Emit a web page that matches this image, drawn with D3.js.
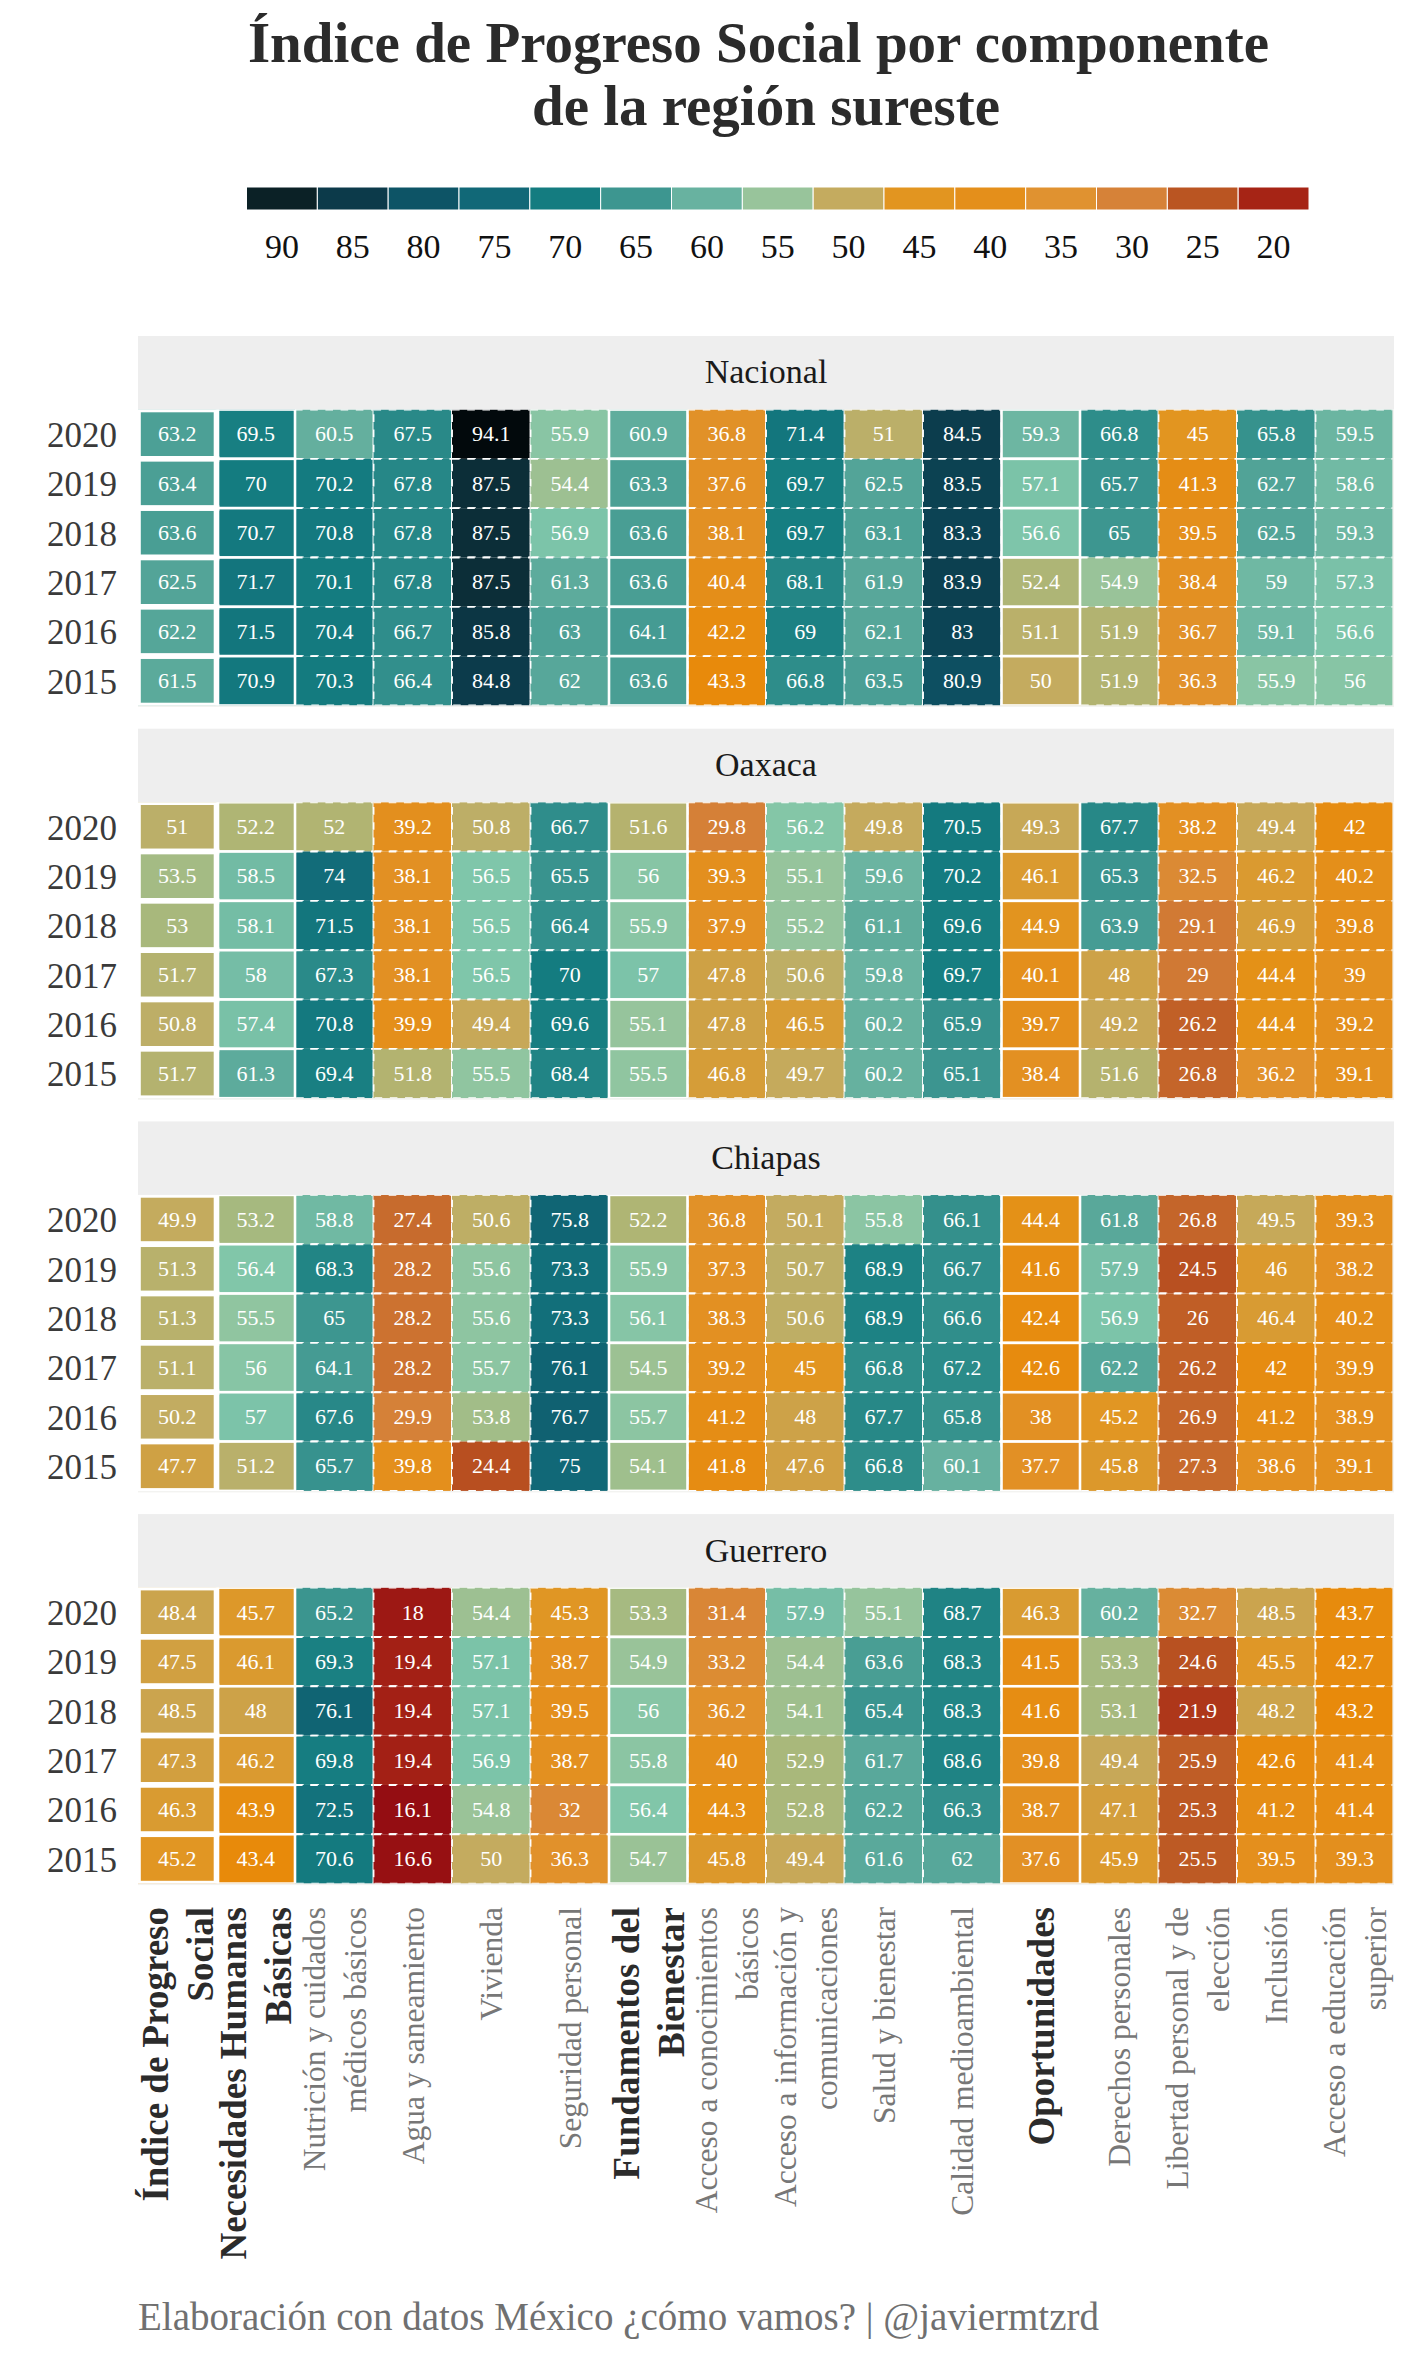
<!DOCTYPE html>
<html>
<head>
<meta charset="utf-8">
<script src="https://cdn.jsdelivr.net/npm/d3@7"></script>
<style>
  body { margin: 0; background: #fff; }
  svg { display: block; }
  text { font-family: "Liberation Serif", serif; }
</style>
</head>
<body>
<div id="chart"></div>
<script>
// data
var years = [2020, 2019, 2018, 2017, 2016, 2015];
var components = [
  "Índice de Progreso\nSocial", "Necesidades Humanas\nBásicas", "Nutrición y cuidados\nmédicos básicos",
  "Agua y saneamiento", "Vivienda", "Seguridad personal", "Fundamentos del\nBienestar",
  "Acceso a conocimientos\nbásicos", "Acceso a información y\ncomunicaciones", "Salud y bienestar",
  "Calidad medioambiental", "Oportunidades", "Derechos personales",
  "Libertad personal y de\nelección", "Inclusión", "Acceso a educación\nsuperior"
];
// columns with a bold label (dimensions, not components)
var boldColumns = [0, 1, 6, 11];
var regions = ["Nacional", "Oaxaca", "Chiapas", "Guerrero"];
var legendBreaks = [90, 85, 80, 75, 70, 65, 60, 55, 50, 45, 40, 35, 30, 25, 20];

var nacional = [
  [63.2, 69.5, 60.5, 67.5, 94.1, 55.9, 60.9, 36.8, 71.4, 51, 84.5, 59.3, 66.8, 45, 65.8, 59.5],
  [63.4, 70, 70.2, 67.8, 87.5, 54.4, 63.3, 37.6, 69.7, 62.5, 83.5, 57.1, 65.7, 41.3, 62.7, 58.6],
  [63.6, 70.7, 70.8, 67.8, 87.5, 56.9, 63.6, 38.1, 69.7, 63.1, 83.3, 56.6, 65, 39.5, 62.5, 59.3],
  [62.5, 71.7, 70.1, 67.8, 87.5, 61.3, 63.6, 40.4, 68.1, 61.9, 83.9, 52.4, 54.9, 38.4, 59, 57.3],
  [62.2, 71.5, 70.4, 66.7, 85.8, 63, 64.1, 42.2, 69, 62.1, 83, 51.1, 51.9, 36.7, 59.1, 56.6],
  [61.5, 70.9, 70.3, 66.4, 84.8, 62, 63.6, 43.3, 66.8, 63.5, 80.9, 50, 51.9, 36.3, 55.9, 56]
];
var oaxaca = [
  [51, 52.2, 52, 39.2, 50.8, 66.7, 51.6, 29.8, 56.2, 49.8, 70.5, 49.3, 67.7, 38.2, 49.4, 42],
  [53.5, 58.5, 74, 38.1, 56.5, 65.5, 56, 39.3, 55.1, 59.6, 70.2, 46.1, 65.3, 32.5, 46.2, 40.2],
  [53, 58.1, 71.5, 38.1, 56.5, 66.4, 55.9, 37.9, 55.2, 61.1, 69.6, 44.9, 63.9, 29.1, 46.9, 39.8],
  [51.7, 58, 67.3, 38.1, 56.5, 70, 57, 47.8, 50.6, 59.8, 69.7, 40.1, 48, 29, 44.4, 39],
  [50.8, 57.4, 70.8, 39.9, 49.4, 69.6, 55.1, 47.8, 46.5, 60.2, 65.9, 39.7, 49.2, 26.2, 44.4, 39.2],
  [51.7, 61.3, 69.4, 51.8, 55.5, 68.4, 55.5, 46.8, 49.7, 60.2, 65.1, 38.4, 51.6, 26.8, 36.2, 39.1]
];
var chiapas = [
  [49.9, 53.2, 58.8, 27.4, 50.6, 75.8, 52.2, 36.8, 50.1, 55.8, 66.1, 44.4, 61.8, 26.8, 49.5, 39.3],
  [51.3, 56.4, 68.3, 28.2, 55.6, 73.3, 55.9, 37.3, 50.7, 68.9, 66.7, 41.6, 57.9, 24.5, 46, 38.2],
  [51.3, 55.5, 65, 28.2, 55.6, 73.3, 56.1, 38.3, 50.6, 68.9, 66.6, 42.4, 56.9, 26, 46.4, 40.2],
  [51.1, 56, 64.1, 28.2, 55.7, 76.1, 54.5, 39.2, 45, 66.8, 67.2, 42.6, 62.2, 26.2, 42, 39.9],
  [50.2, 57, 67.6, 29.9, 53.8, 76.7, 55.7, 41.2, 48, 67.7, 65.8, 38, 45.2, 26.9, 41.2, 38.9],
  [47.7, 51.2, 65.7, 39.8, 24.4, 75, 54.1, 41.8, 47.6, 66.8, 60.1, 37.7, 45.8, 27.3, 38.6, 39.1]
];
var guerrero = [
  [48.4, 45.7, 65.2, 18, 54.4, 45.3, 53.3, 31.4, 57.9, 55.1, 68.7, 46.3, 60.2, 32.7, 48.5, 43.7],
  [47.5, 46.1, 69.3, 19.4, 57.1, 38.7, 54.9, 33.2, 54.4, 63.6, 68.3, 41.5, 53.3, 24.6, 45.5, 42.7],
  [48.5, 48, 76.1, 19.4, 57.1, 39.5, 56, 36.2, 54.1, 65.4, 68.3, 41.6, 53.1, 21.9, 48.2, 43.2],
  [47.3, 46.2, 69.8, 19.4, 56.9, 38.7, 55.8, 40, 52.9, 61.7, 68.6, 39.8, 49.4, 25.9, 42.6, 41.4],
  [46.3, 43.9, 72.5, 16.1, 54.8, 32, 56.4, 44.3, 52.8, 62.2, 66.3, 38.7, 47.1, 25.3, 41.2, 41.4],
  [45.2, 43.4, 70.6, 16.6, 50, 36.3, 54.7, 45.8, 49.4, 61.6, 62, 37.6, 45.9, 25.5, 39.5, 39.3]
];
var regionValues = [nacional, oaxaca, chiapas, guerrero];

var colorStops = [16, 20, 25, 30, 35, 40, 43.5, 45, 48, 50, 53, 55, 56.5, 60, 65, 70, 75, 80, 85, 90, 94];
var colorValues = ["#940c12", "#a62415", "#ba5522", "#d68238", "#e09230", "#e48f1b", "#e88a0a", "#e29520",
  "#cda248", "#c4ab5f", "#a8b87c", "#98c49b", "#7fc6aa", "#68b2a0", "#3d9690", "#147c80", "#116877",
  "#0d5466", "#0c3a4a", "#0b2126", "#020a0d"];

var width = 1417, height = 2362;
var panelLeft = 138, panelRight = 1394;
var stripTop = 336, stripHeight = 73.5, panelHeight = 296, panelStep = 392.7;

var color = d3.scaleLinear().domain(colorStops).range(colorValues);

var svg = d3.select("#chart").append("svg")
    .attr("width", width)
    .attr("height", height);

// title
svg.append("text").attr("x", 758.5).attr("y", 62).attr("text-anchor", "middle")
    .attr("font-size", 57).attr("font-weight", "bold").attr("fill", "#2b2b2b")
    .text("Índice de Progreso Social por componente");
svg.append("text").attr("x", 766).attr("y", 125).attr("text-anchor", "middle")
    .attr("font-size", 57).attr("font-weight", "bold").attr("fill", "#2b2b2b")
    .text("de la región sureste");

// legend
var legendX = d3.scaleBand().domain(legendBreaks).range([246.5, 1309]);
svg.append("g").selectAll("rect")
  .data(legendBreaks)
  .enter()
  .append("rect")
    .attr("x", function(d) { return legendX(d); })
    .attr("y", 187)
    .attr("width", legendX.bandwidth())
    .attr("height", 23)
    .attr("fill", function(d) { return color(d); })
    .attr("stroke", "#fff")
    .attr("stroke-width", 1);
svg.append("g").selectAll("text")
  .data(legendBreaks)
  .enter()
  .append("text")
    .attr("x", function(d) { return legendX(d) + legendX.bandwidth() / 2; })
    .attr("y", 246)
    .attr("dy", "0.35em")
    .attr("text-anchor", "middle")
    .attr("font-size", 34)
    .attr("fill", "#111")
    .text(function(d) { return d; });

var x = d3.scaleBand().domain(d3.range(components.length)).range([panelLeft, panelRight]);

function strokeWidth(col) {
  if (col == 0) return 5.6;
  return boldColumns.indexOf(col) >= 0 ? 2.6 : 1.9;
}

// tiles get painted one after the other so each covers half of the previous stroke,
// solid columns on top of the dashed ones and the first column last
var paintOrder = d3.range(components.length).filter(function(c) { return boldColumns.indexOf(c) < 0; })
  .concat([1, 6, 11, 0]);

regions.forEach(function(region, r) {
  var top = stripTop + r * panelStep;
  var bodyTop = top + stripHeight;
  var y = d3.scaleBand().domain(years).range([bodyTop, bodyTop + panelHeight]);
  var values = regionValues[r];

  svg.append("rect")
      .attr("x", panelLeft).attr("y", top)
      .attr("width", panelRight - panelLeft).attr("height", stripHeight)
      .attr("fill", "#eeeeee");
  svg.append("text")
      .attr("x", 766).attr("y", top + 35.5).attr("dy", "0.35em")
      .attr("text-anchor", "middle")
      .attr("font-size", 34).attr("fill", "#1a1a1a")
      .text(region);

  // faint panel background shows round the tiles
  svg.append("rect")
      .attr("x", panelLeft).attr("y", bodyTop)
      .attr("width", panelRight - panelLeft).attr("height", panelHeight + 1.5)
      .attr("fill", "#f3f3f1");

  var clipId = "clip" + r;
  svg.append("clipPath").attr("id", clipId).append("rect")
      .attr("x", panelLeft).attr("y", bodyTop)
      .attr("width", 1392.4 - panelLeft).attr("height", panelHeight);

  var tiles = [];
  paintOrder.forEach(function(c) {
    years.forEach(function(yr, i) {
      tiles.push({col: c, year: yr, value: values[i][c]});
    });
  });

  var g = svg.append("g").attr("clip-path", "url(#" + clipId + ")");
  g.selectAll("rect")
    .data(tiles)
    .enter()
    .append("rect")
      .attr("x", function(d) { return x(d.col); })
      .attr("y", function(d) { return y(d.year); })
      .attr("width", x.bandwidth())
      .attr("height", y.bandwidth())
      .attr("fill", function(d) { return color(d.value); })
      .attr("stroke", "#fff")
      .attr("stroke-width", function(d) { return strokeWidth(d.col); })
      .attr("stroke-dasharray", function(d) { return boldColumns.indexOf(d.col) >= 0 ? null : "7.6,7.6"; });

  svg.append("g").selectAll("text")
    .data(tiles)
    .enter()
    .append("text")
      .attr("x", function(d) { return x(d.col) + x.bandwidth() / 2; })
      .attr("y", function(d) { return y(d.year) + y.bandwidth() / 2; })
      .attr("dy", "0.33em")
      .attr("text-anchor", "middle")
      .attr("font-size", 22)
      .attr("fill", "#fff")
      .text(function(d) { return d.value; });

  // years on the left
  var yAxis = svg.append("g")
      .attr("transform", "translate(" + (panelLeft - 21) + ",1.5)")
      .call(d3.axisLeft(y).tickSize(0).tickPadding(0));
  yAxis.select(".domain").remove();
  yAxis.selectAll("text")
      .attr("font-family", "Liberation Serif")
      .attr("font-size", 35)
      .attr("fill", "#3a3a3a");
});

// column labels, rotated, up to two lines each
var labelTop = 1907;
components.forEach(function(label, c) {
  var lines = label.split("\n");
  var bold = boldColumns.indexOf(c) >= 0;
  var lineStep = bold ? 45 : 41;
  var cx = x(c) + x.bandwidth() / 2;
  lines.forEach(function(line, k) {
    var lx = cx + (k - (lines.length - 1) / 2) * lineStep;
    svg.append("text")
        .attr("transform", "translate(" + lx + "," + labelTop + ") rotate(-90)")
        .attr("dy", "0.35em")
        .attr("text-anchor", "end")
        .attr("font-size", bold ? 37 : 31.5)
        .attr("font-weight", bold ? "bold" : "normal")
        .attr("fill", bold ? "#2b2b2b" : "#777")
        .text(line);
  });
});

// caption
svg.append("text")
    .attr("x", panelLeft).attr("y", 2316).attr("dy", "0.35em")
    .attr("font-size", 39).attr("fill", "#707070")
    .text("Elaboración con datos México ¿cómo vamos? | @javiermtzrd");
</script>
</body>
</html>
